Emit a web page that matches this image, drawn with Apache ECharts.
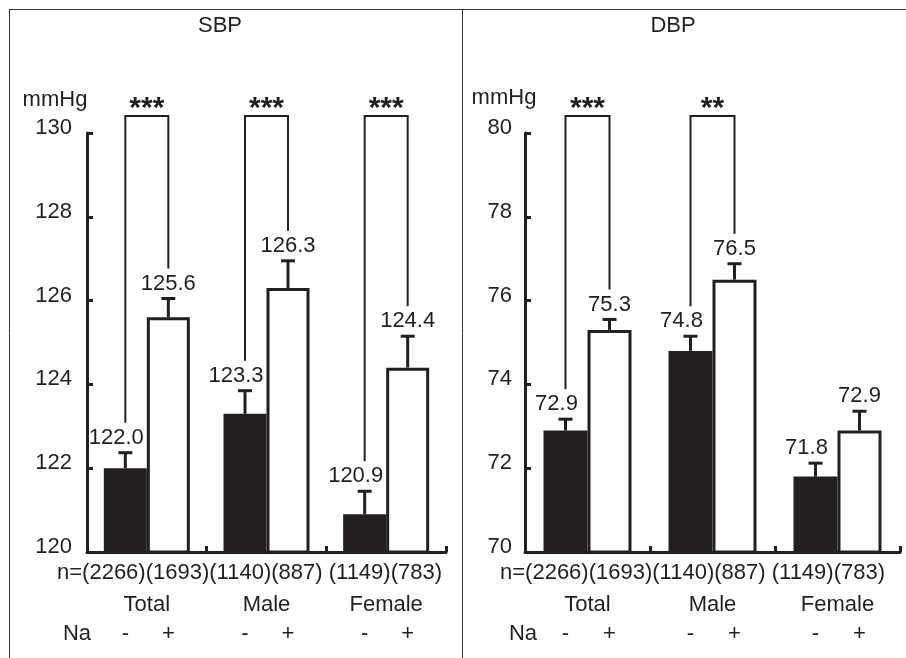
<!DOCTYPE html>
<html><head><meta charset="utf-8">
<script src="https://cdn.jsdelivr.net/npm/echarts/dist/echarts.min.js"></script>
<style>html,body{margin:0;padding:0;background:#fff}#c{width:906px;height:658px}</style>
</head><body><div id="c"></div>
<script>
// ---- data ----
const groups = ['Total', 'Male', 'Female'];
const sbpNeg = [122.0, 123.3, 120.9];
const sbpPos = [125.6, 126.3, 124.4];
const sbpNegSE = [0.37, 0.55, 0.55];
const sbpPosSE = [0.45, 0.65, 0.75];
const sbpSig = ['***', '***', '***'];
const dbpNeg = [72.9, 74.8, 71.8];
const dbpPos = [75.3, 76.5, 72.9];
const dbpNegSE = [0.27, 0.35, 0.32];
const dbpPosSE = [0.25, 0.38, 0.46];
const dbpSig = ['***', '**', ''];
const nNeg = [2266, 1140, 1149];
const nPos = [1693, 887, 783];
const nSep = ['', '', ' '];
const naSigns = ['-', '+'];
const sbpTicks = [120, 122, 124, 126, 128, 130];
const dbpTicks = [70, 72, 74, 76, 78, 80];
const unit = 'mmHg';

// ---- style / layout ----
const INK = '#231f20';
const FONT = '"Liberation Sans", Arial, Helvetica, sans-serif';
const panels = [
  {title: 'SBP', neg: sbpNeg, pos: sbpPos, negSE: sbpNegSE, posSE: sbpPosSE, sig: sbpSig, ticks: sbpTicks,
   left: 87, width: 359, bw: 43, labMargin: 15, titleX: 220, unitX: 55, unitY: 100, nX: 57, naX: 77},
  {title: 'DBP', neg: dbpNeg, pos: dbpPos, negSE: dbpNegSE, posSE: dbpPosSE, sig: dbpSig, ticks: dbpTicks,
   left: 525, width: 375, bw: 44, labMargin: 13, titleX: 673, unitX: 504, unitY: 98, nX: 500, naX: 523}
];
const GRID_TOP = 133, GRID_H = 419;

function errSeries(pi, means, ses, side) {
  const p = panels[pi];
  const yMin = p.ticks[0];
  return {
    type: 'custom', xAxisIndex: pi, yAxisIndex: pi, z: 5, clip: false, silent: true,
    data: means.map((m, i) => [i, m, ses[i]]),
    renderItem(params, api) {
      const cat = api.value(0), m = api.value(1), se = api.value(2);
      const c = api.coord([cat, m]);
      const t = api.coord([cat, m + se]);
      const b = api.coord([cat, yMin]);
      const x = c[0] + side * p.bw / 2;
      const labDx = side < 0 ? -9 : 0;
      return {type: 'group', children: [
        {type: 'line', shape: {x1: x, y1: c[1], x2: x, y2: t[1]}, style: {stroke: INK, lineWidth: 3}},
        {type: 'line', shape: {x1: x - 7, y1: t[1], x2: x + 7, y2: t[1]}, style: {stroke: INK, lineWidth: 3}},
        {type: 'text', x: x + labDx, y: t[1] - 15, style: {text: m.toFixed(1), fill: INK, font: '22px ' + FONT, align: 'center', verticalAlign: 'middle'}},
        {type: 'text', x: x, y: b[1] + 82, style: {text: naSigns[side < 0 ? 0 : 1], fill: INK, font: '22px ' + FONT, align: 'center', verticalAlign: 'middle'}}
      ]};
    }
  };
}

function bracketSeries(pi) {
  const p = panels[pi];
  const yMax = p.ticks[p.ticks.length - 1];
  const data = [];
  groups.forEach((g, i) => { if (p.sig[i]) data.push([i, p.neg[i] + p.negSE[i], p.pos[i] + p.posSE[i]]); });
  return {
    type: 'custom', xAxisIndex: pi, yAxisIndex: pi, z: 4, clip: false, silent: true,
    data: data,
    renderItem(params, api) {
      const cat = api.value(0);
      const a = api.coord([cat, api.value(1)]);
      const b = api.coord([cat, api.value(2)]);
      const top = api.coord([cat, yMax])[1] - 17;
      const xl = a[0] - p.bw / 2, xr = a[0] + p.bw / 2;
      return {type: 'group', children: [
        {type: 'polyline', shape: {points: [[xl, a[1] - 30], [xl, top], [xr, top], [xr, b[1] - 30]]}, style: {stroke: INK, lineWidth: 2, fill: null}},
        {type: 'text', x: (xl + xr) / 2, y: top - 7, style: {text: p.sig[cat], fill: INK, font: 'bold 30px ' + FONT, align: 'center', verticalAlign: 'middle'}}
      ]};
    }
  };
}

const series = [];
panels.forEach((p, i) => {
  series.push({type: 'bar', xAxisIndex: i, yAxisIndex: i, data: p.neg, barWidth: p.bw, barGap: '0%', z: 2, silent: true,
    itemStyle: {color: INK}});
  series.push({type: 'bar', xAxisIndex: i, yAxisIndex: i, data: p.pos, barWidth: p.bw, barGap: '0%', z: 2, silent: true,
    itemStyle: {color: '#fff', borderColor: INK, borderWidth: 3}});
  series.push(errSeries(i, p.neg, p.negSE, -1));
  series.push(errSeries(i, p.pos, p.posSE, 1));
  series.push(bracketSeries(i));
});

const graphic = [
  {type: 'line', shape: {x1: 9, y1: 9.5, x2: 906, y2: 9.5}, style: {stroke: '#333', lineWidth: 1}},
  {type: 'line', shape: {x1: 9.5, y1: 9, x2: 9.5, y2: 658}, style: {stroke: '#333', lineWidth: 1}},
  {type: 'line', shape: {x1: 462.5, y1: 9, x2: 462.5, y2: 658}, style: {stroke: '#333', lineWidth: 1}}
];
panels.forEach((p) => {
  const nText = 'n=' + groups.map((g, i) => nSep[i] + '(' + nNeg[i] + ')(' + nPos[i] + ')').join('');
  graphic.push({type: 'text', x: p.titleX, y: 26, style: {text: p.title, fill: INK, font: '22px ' + FONT, align: 'center', verticalAlign: 'middle'}});
  graphic.push({type: 'text', x: p.unitX, y: p.unitY, style: {text: unit, fill: INK, font: '22px ' + FONT, align: 'center', verticalAlign: 'middle'}});
  graphic.push({type: 'text', x: p.nX, y: 573, style: {text: nText, fill: INK, font: '22px ' + FONT, align: 'left', verticalAlign: 'middle'}});
  graphic.push({type: 'text', x: p.naX, y: 634, style: {text: 'Na', fill: INK, font: '22px ' + FONT, align: 'center', verticalAlign: 'middle'}});
});

const option = {
  animation: false,
  backgroundColor: '#fff',
  textStyle: {fontFamily: FONT},
  grid: panels.map(p => ({left: p.left, top: GRID_TOP, width: p.width, height: GRID_H, containLabel: false, outerBoundsMode: 'none'})),
  xAxis: panels.map((p, i) => ({
    type: 'category', gridIndex: i, data: groups,
    axisLine: {show: true, lineStyle: {color: INK, width: 3}},
    axisTick: {show: true, inside: true, length: 6, interval: 0, lineStyle: {color: INK, width: 3}},
    axisLabel: {margin: 42, fontSize: 22, color: INK, fontFamily: FONT, interval: 0},
    splitLine: {show: false}
  })),
  yAxis: panels.map((p, i) => ({
    type: 'value', gridIndex: i, min: p.ticks[0], max: p.ticks[p.ticks.length - 1], interval: p.ticks[1] - p.ticks[0],
    axisLine: {show: true, lineStyle: {color: INK, width: 3}},
    axisTick: {show: true, inside: true, length: 6, lineStyle: {color: INK, width: 3}},
    axisLabel: {fontSize: 22, color: INK, margin: p.labMargin, verticalAlign: 'bottom', lineHeight: 10, fontFamily: FONT},
    splitLine: {show: false}
  })),
  series: series,
  graphic: graphic
};
const chart = echarts.init(document.getElementById('c'), null, {renderer: 'canvas'});
chart.setOption(option);
</script>
</body></html>
